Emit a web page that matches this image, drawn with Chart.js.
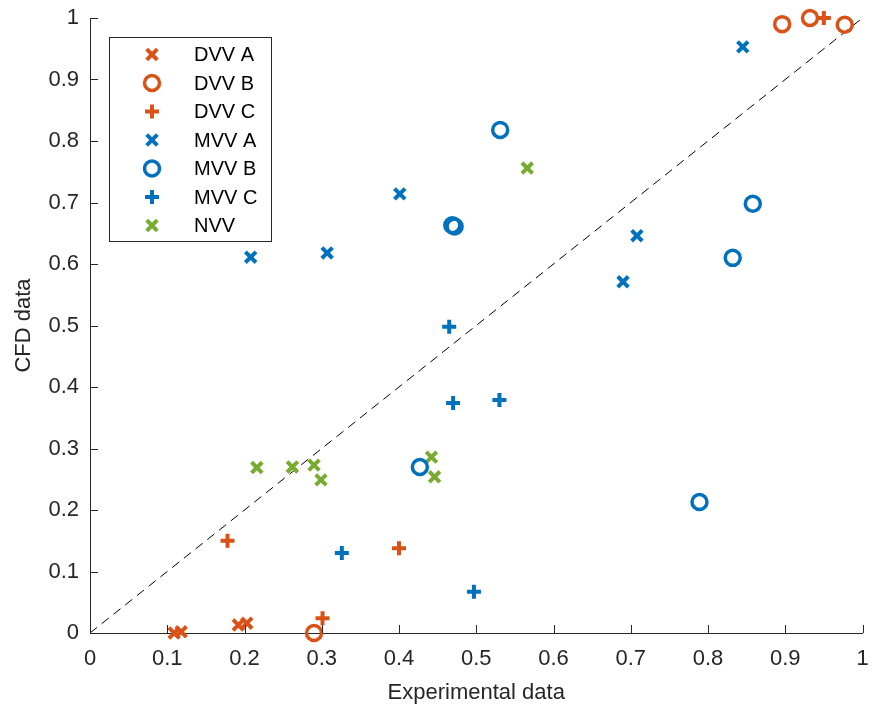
<!DOCTYPE html>
<html>
<head>
<meta charset="utf-8">
<script src="https://cdn.jsdelivr.net/npm/chart.js@4.4.1/dist/chart.umd.min.js"></script>
<style>
  html, body { margin: 0; padding: 0; background: #fff; }
  #wrap { width: 874px; height: 709px; }
</style>
</head>
<body>
<div id="wrap"><canvas id="cfdChart" width="874" height="709"></canvas></div>
<script>
// data: [experimental, CFD]
const dvvA = [[0.109, 0.0], [0.118, 0.002], [0.192, 0.013], [0.203, 0.016]];
const dvvB = [[0.290, 0.0], [0.896, 0.990], [0.932, 1.0], [0.977, 0.989]];
const dvvC = [[0.178, 0.150], [0.301, 0.024], [0.400, 0.138], [0.950, 1.0]];
const mvvA = [[0.208, 0.611], [0.307, 0.618], [0.401, 0.714], [0.690, 0.571], [0.708, 0.646], [0.845, 0.953]];
const mvvB = [[0.427, 0.270], [0.469, 0.663], [0.472, 0.661], [0.531, 0.818], [0.789, 0.213], [0.832, 0.610], [0.858, 0.698]];
const mvvC = [[0.326, 0.130], [0.465, 0.498], [0.470, 0.374], [0.497, 0.067], [0.530, 0.379]];
const nvv = [[0.216, 0.269], [0.262, 0.270], [0.290, 0.273], [0.299, 0.249], [0.442, 0.286], [0.446, 0.254], [0.566, 0.756]];
const seriesNames = ["DVV A", "DVV B", "DVV C", "MVV A", "MVV B", "MVV C", "NVV"];
const tickValues = [0, 0.1, 0.2, 0.3, 0.4, 0.5, 0.6, 0.7, 0.8, 0.9, 1];

const orange = "#D95319", blue = "#0072BD", green = "#77AC30", axisCol = "#262626";
const FONT = "'Liberation Sans', Arial, Helvetica, sans-serif";

const toPts = arr => arr.map(p => ({ x: p[0], y: p[1] }));

// marker look per style
const markers = {
    x: { pointStyle: "crossRot", radius: 7.5, borderWidth: 4 },
    o: { pointStyle: "circle", radius: 7.5, borderWidth: 3.5 },
    "+": { pointStyle: "cross", radius: 7, borderWidth: 4 }
};

function scatterSet(label, pts, color, m) {
    const mk = markers[m];
    return {
        type: "scatter",
        label: label,
        data: toPts(pts),
        borderColor: color,
        backgroundColor: "rgba(0,0,0,0)",
        pointStyle: mk.pointStyle,
        pointRadius: mk.radius,
        pointHoverRadius: mk.radius,
        pointBorderWidth: mk.borderWidth,
        clip: false,
        order: 1
    };
}

const datasets = [
    scatterSet(seriesNames[0], dvvA, orange, "x"),
    scatterSet(seriesNames[1], dvvB, orange, "o"),
    scatterSet(seriesNames[2], dvvC, orange, "+"),
    scatterSet(seriesNames[3], mvvA, blue, "x"),
    scatterSet(seriesNames[4], mvvB, blue, "o"),
    scatterSet(seriesNames[5], mvvC, blue, "+"),
    scatterSet(seriesNames[6], nvv, green, "x"),
    {
        type: "line",
        label: "y = x",
        data: [{ x: 0, y: 0 }, { x: 1, y: 1 }],
        borderColor: "#000",
        borderWidth: 1,
        borderDash: [9, 6],
        pointRadius: 0,
        fill: false,
        order: 5
    }
];

// inward ticks + legend box, MATLAB look
const matlabBits = {
    id: "matlabBits",
    afterDatasetsDraw(chart) {
        const ctx = chart.ctx;
        const xs = chart.scales.x, ys = chart.scales.y;
        const a = chart.chartArea;
        ctx.save();
        ctx.strokeStyle = axisCol;
        ctx.lineWidth = 1;
        ctx.beginPath();
        tickValues.forEach(v => {
            const px = Math.round(xs.getPixelForValue(v)) + 0.5;
            ctx.moveTo(px, a.bottom);
            ctx.lineTo(px, a.bottom - 8);
            const py = Math.round(ys.getPixelForValue(v)) + 0.5;
            ctx.moveTo(a.left, py);
            ctx.lineTo(a.left + 8, py);
        });
        ctx.stroke();

        // legend
        const bx = 109.5, by = 37.5, bw = 162, bh = 204;
        ctx.fillStyle = "#fff";
        ctx.fillRect(bx, by, bw, bh);
        ctx.strokeStyle = axisCol;
        ctx.strokeRect(bx, by, bw, bh);
        ctx.font = "20px " + FONT;
        ctx.textBaseline = "middle";
        ctx.textAlign = "left";
        seriesNames.forEach((name, i) => {
            const ds = chart.data.datasets[i];
            const y = 54.5 + i * 28.5;
            ctx.strokeStyle = ds.borderColor;
            ctx.fillStyle = ds.backgroundColor;
            ctx.lineWidth = ds.pointBorderWidth;
            Chart.helpers.drawPoint(ctx, {
                pointStyle: ds.pointStyle,
                radius: ds.pointRadius,
                rotation: 0,
                borderWidth: ds.pointBorderWidth
            }, 152, y);
            ctx.fillStyle = "#000";
            ctx.fillText(name, 194, y + 1);
        });
        ctx.restore();
    }
};

new Chart(document.getElementById("cfdChart").getContext("2d"), {
    data: { datasets: datasets },
    plugins: [matlabBits],
    options: {
        responsive: false,
        animation: false,
        devicePixelRatio: 1,
        layout: { padding: { top: 18, right: 5, left: 0, bottom: 0 } },
        plugins: { legend: { display: false }, tooltip: { enabled: false } },
        scales: {
            x: {
                type: "linear",
                min: 0, max: 1,
                afterBuildTicks: s => { s.ticks = tickValues.map(v => ({ value: v })); },
                afterFit: s => { s.height = 76; s.paddingLeft = 0; s.paddingRight = 0; },
                ticks: {
                    color: axisCol,
                    font: { family: FONT, size: 22 },
                    padding: 13,
                    maxRotation: 0,
                    autoSkip: false,
                    callback: v => String(+v.toFixed(1))
                },
                grid: { drawOnChartArea: false, drawTicks: false, color: axisCol },
                border: { color: axisCol, width: 1 },
                title: {
                    display: true,
                    text: "Experimental data",
                    color: axisCol,
                    font: { family: FONT, size: 22 },
                    padding: { top: 0, bottom: 3 }
                }
            },
            y: {
                type: "linear",
                min: 0, max: 1,
                afterBuildTicks: s => { s.ticks = tickValues.map(v => ({ value: v })); },
                afterFit: s => { s.width = 90; s.paddingTop = 0; s.paddingBottom = 0; },
                ticks: {
                    color: axisCol,
                    font: { family: FONT, size: 22 },
                    padding: 11,
                    autoSkip: false,
                    callback: v => String(+v.toFixed(1))
                },
                grid: { drawOnChartArea: false, drawTicks: false, color: axisCol },
                border: { color: axisCol, width: 1 },
                title: {
                    display: true,
                    text: "CFD data",
                    color: axisCol,
                    font: { family: FONT, size: 22 },
                    padding: { top: 11, bottom: 0 }
                }
            }
        }
    }
});
</script>
</body>
</html>
